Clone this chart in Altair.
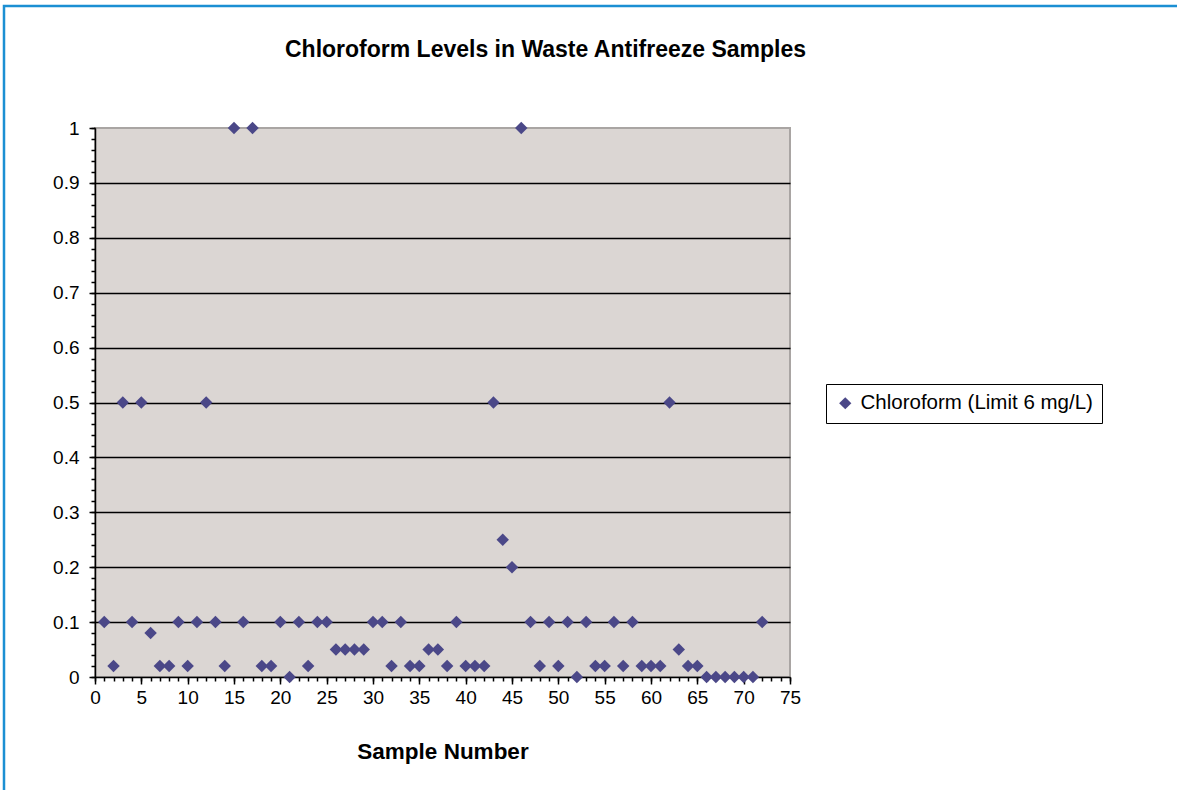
import altair as alt
import pandas as pd

sample_number = list(range(1, 73))
chloroform = [
    0.1, 0.02, 0.5, 0.1, 0.5, 0.08, 0.02, 0.02, 0.1, 0.02,
    0.1, 0.5, 0.1, 0.02, 1.0, 0.1, 1.0, 0.02, 0.02, 0.1,
    0.0, 0.1, 0.02, 0.1, 0.1, 0.05, 0.05, 0.05, 0.05, 0.1,
    0.1, 0.02, 0.1, 0.02, 0.02, 0.05, 0.05, 0.02, 0.1, 0.02,
    0.02, 0.02, 0.5, 0.25, 0.2, 1.0, 0.1, 0.02, 0.1, 0.02,
    0.1, 0.0, 0.1, 0.02, 0.02, 0.1, 0.02, 0.1, 0.02, 0.02,
    0.02, 0.5, 0.05, 0.02, 0.02, 0.0, 0.0, 0.0, 0.0, 0.0,
    0.0, 0.1,
]
series_name = "Chloroform (Limit 6 mg/L)"
y_major = [0, 0.1, 0.2, 0.3, 0.4, 0.5, 0.6, 0.7, 0.8, 0.9, 1]
y_minor = [round(i * 0.02, 2) for i in range(51)]
x_major = list(range(0, 76, 5))
x_minor = list(range(0, 76))

df = pd.DataFrame({"sample": sample_number, "value": chloroform,
                   "series": [series_name] * len(sample_number)})

FONT = "Liberation Sans"
POINT_COLOR = "#4B4888"

xscale = alt.Scale(domain=[0, 75], nice=False, zero=True)
yscale = alt.Scale(domain=[0, 1], nice=False)

points = alt.Chart(df).mark_point(
    shape="diamond", filled=True, size=155, opacity=1
).encode(
    x=alt.X("sample:Q", scale=xscale, title="Sample Number",
            axis=alt.Axis(orient="bottom", values=x_major, tickSize=7,
                          tickWidth=1.5, tickColor="black",
                          domainColor="black", domainWidth=1.5,
                          labelFont=FONT, labelFontSize=19,
                          labelColor="black", labelPadding=4, grid=False,
                          titleFont=FONT, titleFontSize=22.5,
                          titleFontWeight="bold", titleColor="black",
                          titlePadding=33, labelFlush=False)),
    y=alt.Y("value:Q", scale=yscale, title=None,
            axis=alt.Axis(orient="left", values=y_major, format="~g",
                          tickSize=6, tickWidth=1.5, tickColor="black",
                          domainColor="black", domainWidth=1.5,
                          labelFont=FONT, labelFontSize=19,
                          labelColor="black", labelPadding=10,
                          grid=True, gridWidth=1.6,
                          gridColor={"condition": {"test": "datum.value === 1 || datum.value === 0", "value": "transparent"}, "value": "black"},
                          labelFlush=False)),
    color=alt.Color("series:N", scale=alt.Scale(range=[POINT_COLOR]),
                    legend=alt.Legend(title=None, orient="none",
                                      legendX=731, legendY=256,
                                      strokeColor="black", padding=9,
                                      symbolType="diamond", symbolSize=150,
                                      labelFont=FONT, labelFontSize=20.5,
                                      labelColor="black", labelOffset=5,
                                      labelLimit=600,
                                      symbolStrokeWidth=0)),
)

minor = alt.Chart(df).mark_point(opacity=0).encode(
    x=alt.X("sample:Q", scale=xscale, title=None,
            axis=alt.Axis(values=x_minor, tickSize=4, tickWidth=1.5,
                          tickColor="black", labels=False, domain=False,
                          grid=False, orient="bottom")),
    y=alt.Y("value:Q", scale=yscale, title=None,
            axis=alt.Axis(values=y_minor, tickSize=4, tickWidth=1.5,
                          tickColor="black", labels=False, domain=False,
                          grid=False, orient="left")),
)

frame = alt.Chart(alt.Data(values=[{}])).mark_rect(
    fill=None, stroke="#1B8FD3", strokeWidth=2.5
).encode(
    x=alt.value(-91), x2=alt.value(1200),
    y=alt.value(-122), y2=alt.value(800),
)

chart = alt.layer(frame, minor, points).resolve_axis(
    x="independent", y="independent"
).properties(
    width=695, height=549,
    background="white",
    title=alt.TitleParams("Chloroform Levels in Waste Antifreeze Samples",
                          font=FONT, fontSize=23, fontWeight="bold",
                          color="black", anchor="middle", dx=103,
                          offset=-75, baseline="alphabetic"),
    autosize=alt.AutoSizeParams(type="none"),
    padding={"left": 95, "top": 128, "right": 387, "bottom": 113},
).configure_view(
    fill="#DBD6D3", stroke="#A9A5A3", strokeWidth=2
)

chart.save("out.html", embed_options={"renderer": "svg", "actions": False})
